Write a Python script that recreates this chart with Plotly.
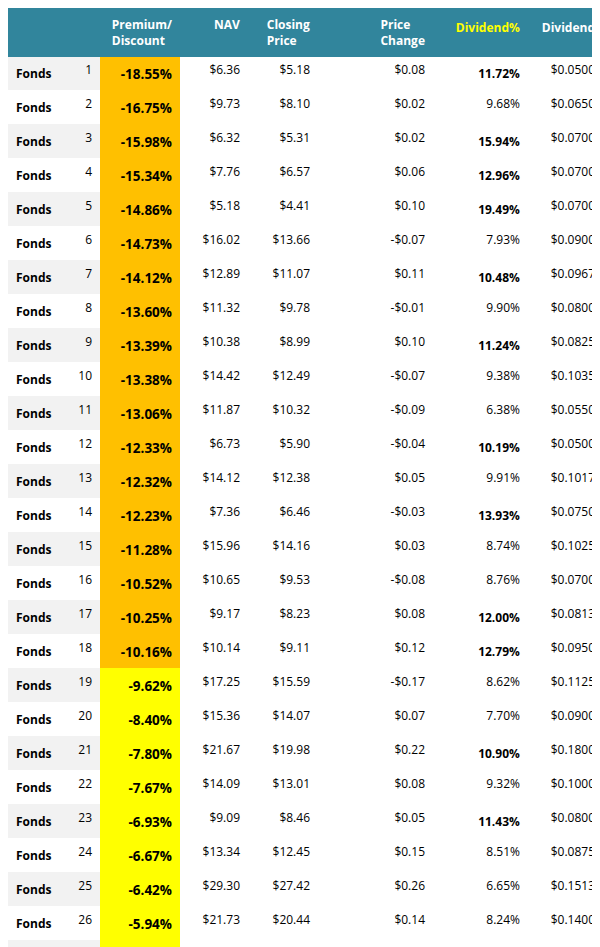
import plotly.graph_objects as go

ids = list(range(1, 37))
premium = [-18.55, -16.75, -15.98, -15.34, -14.86, -14.73, -14.12, -13.60, -13.39, -13.38, -13.06, -12.33,
           -12.32, -12.23, -11.28, -10.52, -10.25, -10.16, -9.62, -8.40, -7.80, -7.67, -6.93, -6.67,
           -6.42, -5.94, -5.31, -3.46, -3.35, -1.02, -0.55, 1.07, 1.97, 7.78, 9.22, 14.58]
nav = [6.36, 9.73, 6.32, 7.76, 5.18, 16.02, 12.89, 11.32, 10.38, 14.42, 11.87, 6.73, 14.12, 7.36, 15.96, 10.65,
       9.17, 10.14, 17.25, 15.36, 21.67, 14.09, 9.09, 13.34, 29.30, 21.73, 8.85, 23.68, 26.28, 13.76, 10.91,
       22.51, 19.79, 18.51, 23.21, 5.28]
closing = [5.18, 8.10, 5.31, 6.57, 4.41, 13.66, 11.07, 9.78, 8.99, 12.49, 10.32, 5.90, 12.38, 6.46, 14.16, 9.53,
           8.23, 9.11, 15.59, 14.07, 19.98, 13.01, 8.46, 12.45, 27.42, 20.44, 8.38, 22.86, 25.40, 13.62, 10.85,
           22.75, 20.18, 19.95, 25.35, 6.05]
change = [0.08, 0.02, 0.02, 0.06, 0.10, -0.07, 0.11, -0.01, 0.10, -0.07, -0.09, -0.04, 0.05, -0.03, 0.03, -0.08,
          0.08, 0.12, -0.17, 0.07, 0.22, 0.08, 0.05, 0.15, 0.26, 0.14, -0.01, -0.16, -0.26, 0.14, 0.13,
          -0.10, 0.39, 0.04, 0.24, 0.05]
div_pct = [11.72, 9.68, 15.94, 12.96, 19.49, 7.93, 10.48, 9.90, 11.24, 9.38, 6.38, 10.19, 9.91, 13.93, 8.74, 8.76,
           12.00, 12.79, 8.62, 7.70, 10.90, 9.32, 11.43, 8.51, 6.65, 8.24, 7.89, 8.41, 8.13, 9.98, 8.08,
           10.90, 8.16, 8.23, 7.97, 9.97]
dividend = [0.0500, 0.0650, 0.0700, 0.0700, 0.0700, 0.0900, 0.0967, 0.0800, 0.0825, 0.1035, 0.0550, 0.0500,
            0.1017, 0.0750, 0.1025, 0.0700, 0.0813, 0.0950, 0.1125, 0.0900, 0.1800, 0.1000, 0.0800, 0.0875,
            0.1513, 0.1400, 0.0550, 0.1600, 0.1720, 0.1125, 0.0730, 0.2100, 0.1360, 0.1360, 0.1670, 0.0500]

headers = ["", "", "<b>Premium/<br>Discount</b>", "<b>NAV</b>", "<b>Closing<br>Price</b>",
           "<b>Price<br>Change</b>", "<br><b>Dividend%</b>", "<br><b>Dividend</b>"]


def money(v, d=2):
    s = f"${abs(v):.{d}f}"
    return "-" + s if v < 0 else s


stripe = ["#F2F2F2" if i % 2 == 0 else "white" for i in range(len(ids))]
prem_fill = ["#FFC000" if p <= -10 else "#FFFF00" for p in premium]

cells = [
    ["<b>Fonds</b>"] * len(ids),
    [str(i) for i in ids],
    [f"<b>{p:.2f}%</b>" for p in premium],
    [money(v) for v in nav],
    [money(v) for v in closing],
    [money(v) for v in change],
    [f"<b>{v:.2f}%</b>" if v >= 10 else f"{v:.2f}%" for v in div_pct],
    [money(v, 4) for v in dividend],
]
fills = [stripe, stripe, prem_fill] + [["white"] * len(ids)] * 5

fig = go.Figure(go.Table(
    columnwidth=[65, 27, 80, 68, 70, 115, 95, 75],
    domain=dict(x=[0, 595 / 600], y=[0, 1]),
    header=dict(values=headers, fill_color="#31859C", line_color="#31859C", height=44,
                align=["left", "right"] + ["right"] * 6,
                font=dict(family="Open Sans", size=12,
                          color=["white"] * 6 + ["#FFFF00", "white"])),
    cells=dict(values=cells, fill_color=fills, line_color=fills, height=25,
               align=["left", "right"] + ["right"] * 6,
               font=dict(family="Open Sans", size=[12, 12, 13.5, 12, 12, 12, 12, 12],
                         color="black")),
))
fig.update_layout(width=600, height=947, margin=dict(l=0, r=0, t=0, b=0),
                  paper_bgcolor="white")
fig.write_html("out.html")
